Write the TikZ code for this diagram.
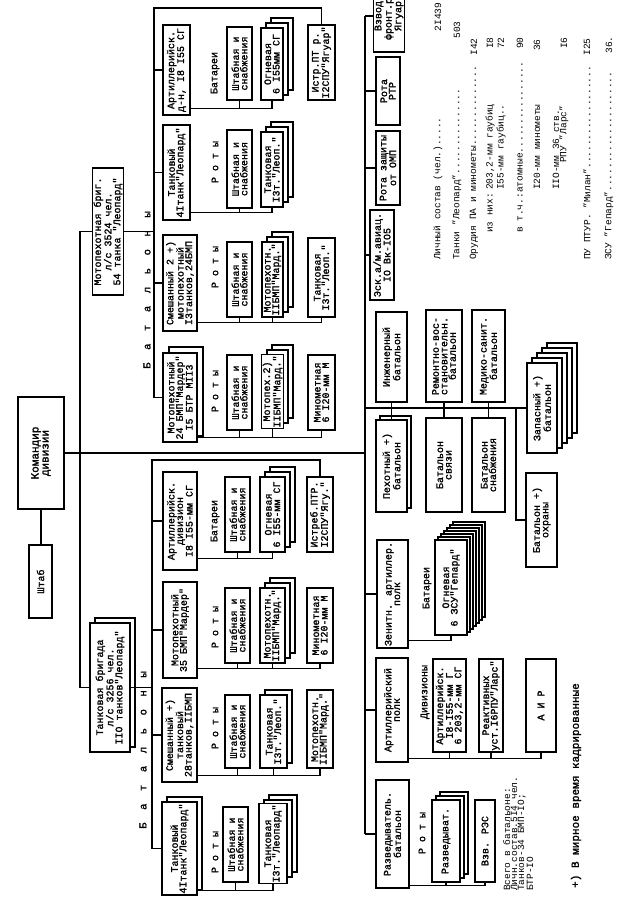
\documentclass[tikz,border=0pt]{standalone}
\usepackage{fontspec}
\setmainfont{Liberation Mono}
\newfontfamily\tmb[FakeBold=1.6]{Liberation Mono}
\newcommand\bxfont{\fontsize{10}{8.5}\tmb}
\tikzset{
 bxs/.style={draw, fill=white, line width=1.3pt, rotate=90, inner sep=1pt, align=center, font=\bxfont},
 bxb/.style={bxs, font=\fontsize{10}{9}\tmb},
 lbl/.style={rotate=90, inner sep=0pt, font=\fontsize{10}{10}\tmb},
 blbl/.style={rotate=90, inner sep=0pt, font=\fontsize{10.5}{10.5}\tmb},
 st/.style={rotate=90, anchor=west, inner sep=0pt, font=\fontsize{9.5}{9.5}\selectfont},
 stn/.style={rotate=90, inner sep=0pt, font=\fontsize{9.5}{9.5}\selectfont},
 ln/.style={line width=1.3pt},
}
\newcommand\onebx[6]{\node[bxs, minimum width={#5-#4}, minimum height={#3-#2}] (#1) at ({(#2+#3)/2},{(#4+#5)/2}) {#6};}
\newcommand\stackbx[8]{%
 \foreach \k in {#6,...,1}{\node[bxs, minimum width={#5-#4}, minimum height={#3-#2}] at ({(#2+#3)/2+\k*#7},{(#4+#5)/2-\k*#7}) {};}%
 \onebx{#1}{#2}{#3}{#4}{#5}{#8}}
\begin{document}
\begin{tikzpicture}[x=1pt,y=-1pt]
\useasboundingbox (0,0) rectangle (626,907);
\fill[white] (0,0) rectangle (626,907);
\clip (0,0) rectangle (626,907);

% ---- command
\node[bxs, font=\fontsize{11}{10}\tmb, minimum width=112, minimum height=46] (Kom) at (41,453) {Командир\\дивизии};
\onebx{Sht}{29}{52}{545}{618}{Штаб}
\node[bxb, minimum width=127, minimum height=28] (MBrig) at (108,231.5) {Мотопехотная бриг.\\л/с 3524 чел.\\54 танка "Леопард"};
\node[bxs, minimum width=129, minimum height=40] (TBrigB) at (115,682.5) {};
\node[bxb, minimum width=129, minimum height=40] (TBrig) at (110,687.5) {Танковая бригада\\л/с 3256 чел.\\IIO танков"Леопард"};

% ---- upper brigade
\onebx{A0}{163}{190}{25}{115}{Артиллерийск.\\д-н, I8 I55 СГ}
\onebx{A1}{227}{252}{27}{100}{Штабная и\\снабжения}
\stackbx{A2}{261}{283}{28}{100}{2}{5}{Огневая\\6 I55мм СГ}
\onebx{A3}{308}{335}{25}{100}{Истр.ПТ р.\\I2СПУ"Ягуар"}
\node[lbl] (lA) at (215,73) {Батареи};

\onebx{B0}{163}{190}{125}{220}{Танковый\\4Iтанк"Леопард"}
\onebx{B1}{227}{252}{130}{208}{Штабная и\\снабжения}
\stackbx{B2}{261}{283}{132}{207}{2}{5}{Танковая\\I3т."Леоп."}
\node[lbl] (lB) at (215,162) {Р~о~т~ы};

\onebx{C0}{163}{197}{235}{331}{Смешанный 2 +)\\мотопехотный\\I3танков,24БМП}
\onebx{C1}{227}{252}{242}{317}{Штабная и\\снабжения}
\stackbx{C2}{262}{283}{242}{317}{2}{5}{Мотопехотн.\\IIБМП"Мард."}
\onebx{C3}{308}{335}{238}{317}{Танковая\\I3т."Леоп."}
\node[lbl] (lC) at (215,267) {Р~о~т~ы};

\stackbx{D0}{163}{197}{353}{442}{1}{6}{Мотопехотный\\24 БМП"Мардер"\\I5 БТР МII3}
\onebx{D1}{227}{252}{355}{430}{Штабная и\\снабжения}
\stackbx{D2}{262}{283}{355}{428}{2}{5}{Мотопех.2)\\IIБМП"Мард."}
\onebx{D3}{308}{335}{355}{430}{Минометная\\6 I20-мм М}
\node[lbl] (lD) at (215,391) {Р~о~т~ы};

\node[blbl] (bU) at (147,290) {Б~~а~~т~~а~~л~~ь~~о~~н~~ы};

% ---- lower brigade
\onebx{E0}{163}{197}{472}{570}{Артиллерийск.\\дивизион\\I8 I55-мм СГ}
\onebx{E1}{225}{250}{477}{552}{Штабная и\\снабжения}
\stackbx{E2}{260}{285}{477}{552}{2}{5}{Огневая\\6 I55-мм СГ}
\onebx{E3}{307}{333}{477}{552}{Истреб.ПТР.\\I2СПУ"Ягу."}
\node[lbl] (lE) at (215,521) {Батареи};

\onebx{F0}{163}{197}{582}{678}{Мотопехотный\\35 БМП"Мардер"}
\onebx{F1}{225}{250}{588}{663}{Штабная и\\снабжения}
\stackbx{F2}{260}{285}{588}{663}{2}{5}{Мотопехотн.\\IIБМП"Мард."}
\onebx{F3}{307}{333}{588}{663}{Минометная\\6 I20-мм М}
\node[lbl] (lF) at (215,627) {Р~о~т~ы};

\onebx{G0}{162}{197}{688}{782}{Смешанный +)\\танковый\\28танков,IIБМП}
\onebx{G1}{225}{250}{695}{768}{Штабная и\\снабжения}
\stackbx{G2}{260}{287}{695}{768}{1}{5}{Танковая\\I3т."Леоп."}
\onebx{G3}{307}{333}{690}{768}{Мотопехотн.\\IIБМП"Мард."}
\node[lbl] (lG) at (215,728) {Р~о~т~ы};

\stackbx{H0}{162}{197}{802}{895}{1}{5}{Танковый\\4Iтанк"Леопард"}
\onebx{H1}{223}{248}{807}{882}{Штабная и\\снабжения}
\stackbx{H2}{259}{287}{805}{882}{2}{5}{Танковая\\I3т."Леопард"}
\node[lbl] (lH) at (215,852) {Р~о~т~ы};

\node[blbl] (bL) at (143,750) {Б~~а~~т~~а~~л~~ь~~о~~н~~ы};

% ---- divisional units
\node[bxs, minimum width=72, minimum height=26] (Vzv) at (389,16) {Взвод\\фронт.р.\\Ягуар};
\onebx{RRTR}{376}{400}{57}{125}{Рота\\РТР}
\onebx{ROMP}{376}{400}{131}{205}{Рота защиты\\от ОМП}
\onebx{Esk}{370}{394}{210}{300}{Эск.а/м.авиац.\\IO Вк-IO5}
\onebx{Inzh}{376}{407}{312}{402}{Инженерный\\батальон}
\onebx{Rem}{426}{462}{310}{402}{Ремонтно-вос-\\становительн.\\батальон}
\onebx{Med}{472}{505}{310}{402}{Медико-санит.\\батальон}
\stackbx{Peh}{376}{407}{420}{512}{1}{4}{Пехотный +)\\батальон}
\onebx{Svz}{426}{462}{418}{512}{Батальон\\связи}
\onebx{Snb}{472}{505}{418}{512}{Батальон\\снабжения}
\stackbx{Zap}{527}{557}{363}{453}{4}{5}{Запасный +)\\батальон}
\onebx{Ohr}{526}{557}{473}{567}{Батальон +)\\охраны}
\onebx{Zen}{377}{408}{540}{648}{Зенитн. артиллер.\\полк}
\stackbx{Ogn}{435}{467}{540}{635}{6}{3}{Огневая\\6 ЗСУ"Гепард"}
\node[lbl] (lZ) at (427,588) {Батареи};
\onebx{ArtP}{376}{408}{658}{762}{Артиллерийский\\полк}
\onebx{Dv1}{433}{466}{659}{752}{Артиллерийск.\\I8-I55-мм Г\\6 203,2-мм СГ}
\onebx{Dv2}{479}{503}{659}{752}{Реактивных\\уст.I6РПУ"Ларс"}
\onebx{Dv3}{526}{556}{659}{752}{А И Р}
\node[lbl] (lAP) at (425,692) {Дивизионы};
\onebx{Razv}{376}{409}{780}{888}{Разведыватель.\\батальон}
\stackbx{RzR}{432}{460}{800}{882}{2}{4}{Разведыват.}
\onebx{RES}{475}{495}{800}{882}{Взв. РЭС}
\node[lbl] (lR) at (422,833) {Р~о~т~ы};

% ---- connectors
\coordinate (mbus) at (80,0);
\coordinate (ubT) at (154,8);
\coordinate (lbT) at (152,460);
\coordinate (dbus) at (365,0);
\coordinate (ohrb) at (516,408);

\draw[ln] (Kom.west) -- (Kom.west |- Sht.east);
\draw[ln] (Kom.south) -- (Kom.south -| dbus);
\draw[ln] (MBrig.north) -- (MBrig.north -| mbus) -- (TBrig.north -| mbus) -- (TBrig.north);
\draw[ln] (MBrig.south) -- (MBrig.south -| ubT);
\draw[ln] (TBrig.south) -- (TBrig.south -| lbT);

\draw[ln] (A3.east) |- (ubT) -- (D0.north -| ubT) -- (D0.north);
\foreach \n in {A0,B0,C0} \draw[ln] (\n.north -| ubT) -- (\n.north);
\draw[ln] (E3.east) |- (lbT) -- (H0.north -| lbT) -- (H0.north);
\foreach \n in {E0,F0,G0} \draw[ln] (\n.north -| lbT) -- (\n.north);

\draw[ln] ([yshift=7pt]A0.south west) -| (A1.west);
\draw[ln] ([yshift=7pt]A0.south west) -| (A2.west);
\draw[ln] ([yshift=8pt]B0.south west) -| (B1.west);
\draw[ln] ([yshift=8pt]B0.south west) -| (B2.west);
\foreach \n in {C1,C2,C3} \draw[ln] ([yshift=9pt]C0.south west) -| (\n.west);
\foreach \n in {D1,D2,D3} \draw[ln] ([yshift=5pt]D0.south west) -| (\n.west);
\foreach \n in {E1,E2} \draw[ln] ([yshift=12pt]E0.south west) -| (\n.west);
\foreach \n in {F1,F2,F3} \draw[ln] ([yshift=10pt]F0.south west) -| (\n.west);
\foreach \n in {G1,G2,G3} \draw[ln] ([yshift=7pt]G0.south west) -| (\n.west);
\foreach \n in {H1,H2} \draw[ln] ([yshift=5pt]H0.south west) -| (\n.west);

\draw[ln] (Vzv.north -| dbus) -- (Razv.north -| dbus);
\foreach \n in {Vzv,RRTR,ROMP,Esk,Zen,ArtP,Razv} \draw[ln] (\n.north -| dbus) -- (\n.north);
\draw[ln] (Zap.north -| dbus) -- (Zap.north);
\draw[ln] (Inzh.west) -- (Peh.east);
\draw[ln] (Rem.west) -- (Svz.east);
\draw[ln] (Med.west) -- (Snb.east);
\draw[ln] (ohrb) |- (Ohr.north);
\draw[ln] ([yshift=8pt]Zen.south west) -| (Ogn.west);
\foreach \n in {Dv1,Dv2,Dv3} \draw[ln] ([yshift=4pt]ArtP.south west) -| (\n.west);
\foreach \n in {RzR,RES} \draw[ln] ([yshift=3pt]Razv.south west) -| (\n.west);

% ---- statistics
\node[st] (s1) at (438,260) {Личный состав (чел.).....};
\node[stn] (n1) at (438,17) {2I439};
\node[st] (s2) at (457,260) {Танки "Леопард"...............};
\node[stn] (n2) at (457,30) {503};
\node[st] (s3) at (474,260) {Орудия ПА и минометы..............};
\node[stn] (n3) at (474,47) {I42};
\node[st] (s4) at (490,233) {из них:};
\node[st] (s4b) at (490,190) {203,2-мм гаубиц};
\node[stn] (n4) at (490,43) {I8};
\node[st] (s5) at (501,190) {I55-мм гаубиц..};
\node[stn] (n5) at (501,43) {72};
\node[st] (s6) at (520,233) {в т.ч.:атомные................};
\node[stn] (n6) at (520,43) {90};
\node[st] (s7) at (537,190) {I20-мм минометы};
\node[stn] (n7) at (537,45) {36};
\node[st] (s8) at (556,190) {IIO-мм 36 ств.};
\node[st] (s8b) at (564,163) {РПУ "Ларс"};
\node[stn] (n8) at (564,43) {I6};
\node[st] (s9) at (587,260) {ПУ ПТУР. "Милан"..................};
\node[stn] (n9) at (587,47) {I25};
\node[st] (s10) at (609,260) {ЗСУ "Гепард".....................};
\node[stn] (n10) at (609,45) {36.};

\node[rotate=90, anchor=north west, inner sep=0pt, align=left, font=\fontsize{9.5}{7}\selectfont] (tot) at (503,891) {Всего в батальоне:\\Личн.состав.5I4 чел.\\Танков-34 БМП-IO;\\БТР-IO};

\node[rotate=90, anchor=west, inner sep=0pt, font=\fontsize{11}{11}\tmb] (fn) at (576,888) {+) В мирное время кадрированные};
\end{tikzpicture}
\end{document}
